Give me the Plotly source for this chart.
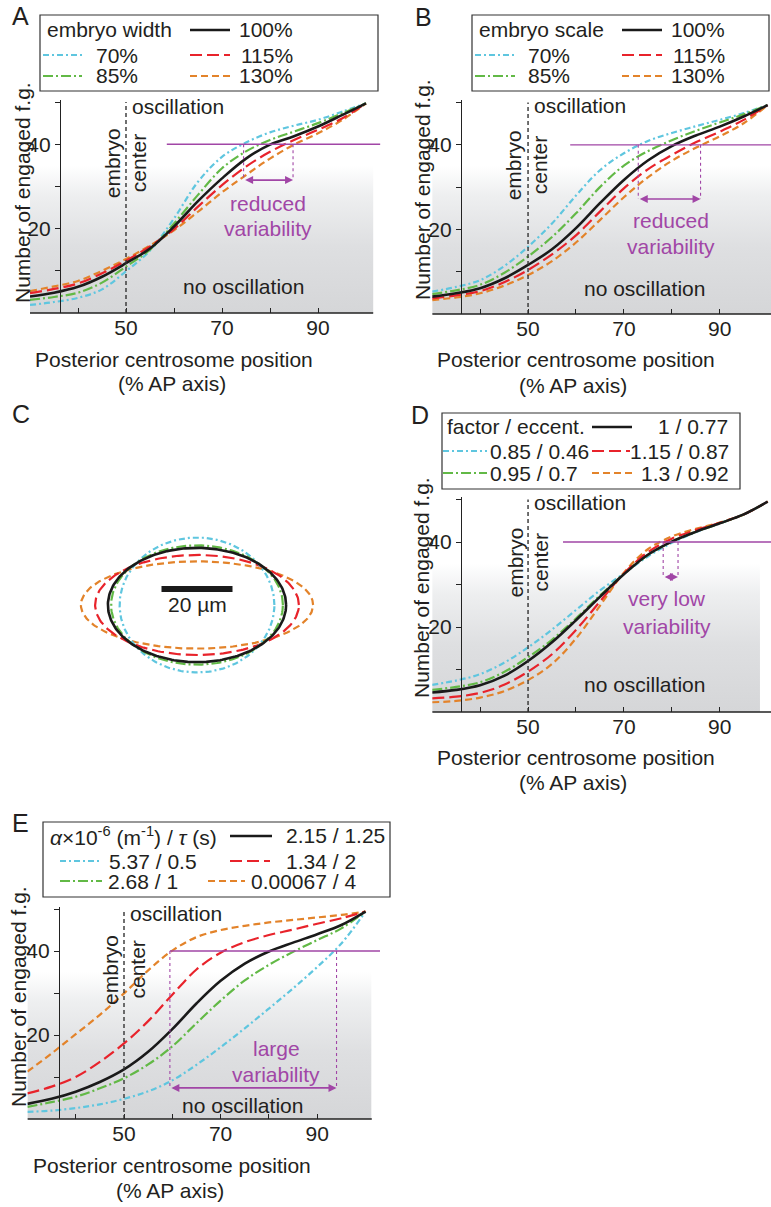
import numpy as np
import plotly.graph_objects as go

W, H = 771, 1207
FONT = "Liberation Sans, Arial, sans-serif"
TXT = "#231f20"
PURPLE = "#a146a6"

# ------------------------------------------------------------------ data
pos = [30, 35, 40, 45, 50, 55, 60, 65, 70, 75, 80, 85, 90, 95, 100]

# Panel A : embryo width
A_black = [3.9, 4.8, 6.2, 8.6, 11.8, 15.3, 20.5, 26.5, 31.9, 36.6, 39.9, 41.9, 44.2, 46.9, 49.7]
A_cyan = [1.9, 2.6, 3.6, 5.6, 9.9, 14.8, 22.4, 31.1, 37.0, 40.4, 42.8, 44.4, 45.8, 47.7, 49.7]
A_green = [3.1, 3.8, 4.8, 7.2, 11.0, 15.0, 21.2, 28.0, 34.3, 38.3, 41.0, 43.0, 45.0, 47.3, 49.7]
A_red = [4.7, 5.7, 7.0, 9.4, 12.4, 15.8, 19.9, 25.2, 30.3, 34.7, 38.2, 41.0, 43.4, 46.1, 49.7]
A_orange = [5.2, 6.3, 7.6, 10.0, 12.8, 16.0, 19.6, 24.0, 28.6, 32.7, 36.6, 39.9, 42.6, 45.7, 49.7]
A_labels = {"black": "100%", "cyan": "70%", "green": "85%", "red": "115%", "orange": "130%"}

# Panel B : embryo scale
B_black = [4.1, 4.9, 6.1, 8.4, 11.6, 15.3, 20.3, 26.2, 31.7, 36.3, 39.7, 42.2, 44.3, 46.7, 49.4]
B_cyan = [5.3, 6.4, 8.0, 11.3, 15.9, 21.4, 28.0, 34.0, 38.0, 40.9, 42.8, 44.4, 45.9, 47.5, 49.4]
B_green = [4.7, 5.6, 6.9, 9.7, 13.6, 18.2, 23.8, 30.0, 35.1, 38.5, 41.1, 43.3, 45.3, 47.2, 49.4]
B_red = [3.7, 4.4, 5.4, 7.5, 10.4, 14.1, 18.6, 24.2, 29.7, 34.2, 37.6, 40.6, 43.1, 45.9, 49.4]
B_orange = [3.3, 3.9, 4.9, 6.7, 9.2, 12.5, 16.9, 22.2, 27.6, 32.3, 36.2, 39.3, 42.0, 45.1, 49.4]
B_labels = {"black": "100%", "cyan": "70%", "green": "85%", "red": "115%", "orange": "130%"}

# Panel C : embryo shapes (semi-axes, micrometres)
C_semi_a = {"black": 25.1, "cyan": 21.8, "green": 24.2, "red": 28.7, "orange": 32.7}
C_semi_b = {"black": 16.1, "cyan": 19.0, "green": 16.8, "red": 14.1, "orange": 12.3}
C_scalebar_um = 20

# Panel D : factor / eccentricity
D_black = [4.6, 5.2, 6.3, 8.5, 12.0, 16.4, 21.6, 27.1, 32.4, 37.0, 40.1, 42.4, 44.4, 46.5, 49.5]
D_cyan = [6.4, 7.4, 8.9, 11.6, 15.2, 19.4, 24.0, 28.6, 32.6, 36.6, 39.8, 42.3, 44.4, 46.5, 49.5]
D_green = [5.2, 5.9, 7.0, 9.4, 12.9, 17.0, 22.0, 27.4, 32.5, 36.9, 40.1, 42.4, 44.4, 46.5, 49.5]
D_red = [3.2, 3.6, 4.5, 6.4, 9.5, 13.6, 19.3, 26.0, 32.6, 37.6, 40.8, 42.8, 44.5, 46.5, 49.5]
D_orange = [2.3, 2.6, 3.4, 4.9, 7.5, 11.3, 17.3, 25.0, 32.8, 38.3, 41.3, 43.1, 44.6, 46.5, 49.5]
D_labels = {"black": "1 / 0.77", "cyan": "0.85 / 0.46", "green": "0.95 / 0.7",
            "red": "1.15 / 0.87", "orange": "1.3 / 0.92"}

# Panel E : alpha / tau
E_black = [3.6, 4.8, 6.5, 8.8, 11.8, 16.0, 21.4, 27.5, 32.9, 37.0, 39.9, 42.0, 44.0, 46.2, 49.4]
E_cyan = [1.7, 2.0, 2.6, 3.5, 4.8, 6.6, 9.2, 12.9, 17.1, 21.6, 26.3, 31.1, 36.2, 41.8, 49.4]
E_green = [2.9, 4.0, 5.3, 7.3, 9.7, 13.0, 17.3, 22.8, 28.2, 33.0, 36.7, 39.8, 42.6, 45.4, 49.4]
E_red = [6.1, 7.7, 10.0, 13.6, 18.0, 23.3, 29.6, 35.6, 39.6, 42.1, 43.8, 45.1, 46.5, 47.8, 49.4]
E_orange = [11.3, 15.6, 20.2, 24.8, 29.9, 35.4, 40.1, 43.3, 45.0, 46.0, 46.8, 47.4, 48.0, 48.6, 49.4]
E_labels = {"black": "2.15 / 1.25", "cyan": "5.37 / 0.5", "green": "2.68 / 1",
            "red": "1.34 / 2", "orange": "0.00067 / 4"}

x_tickvals = [40, 50, 60, 70, 80, 90]
x_ticktext = ["", "50", "", "70", "", "90"]
y_tickvals = [10, 20, 30, 40, 50]
y_ticktext = ["", "20", "", "40", ""]

# ------------------------------------------------------------------ styles
STY = {
    "black": dict(color="#1a1a1a", width=2.6, dash="solid"),
    "cyan": dict(color="#5fc6df", width=2.2, dash="6px,3px,2px,3px"),
    "green": dict(color="#62b946", width=2.2, dash="10px,3px,2px,3px"),
    "red": dict(color="#e8232b", width=2.2, dash="12px,5px"),
    "orange": dict(color="#e3832a", width=2.2, dash="7px,4px"),
}
ORDER = ["cyan", "green", "orange", "red", "black"]


def PX(x):
    return x / W


def PY(y):
    return 1 - y / H


fig = go.Figure()
shapes = []
annots = []


def text_px(t, x, y, size=21, color=TXT, xanchor="center", yanchor="middle", angle=0):
    annots.append(dict(text=t, x=PX(x), y=PY(y), xref="paper", yref="paper",
                       showarrow=False, xanchor=xanchor, yanchor=yanchor,
                       textangle=angle, font=dict(size=size, color=color, family=FONT)))


def text_data(t, x, y, ax, size=21, color=TXT, xanchor="center", angle=0):
    annots.append(dict(text=t, x=x, y=y, xref="x" + ax, yref="y" + ax,
                       showarrow=False, xanchor=xanchor, yanchor="middle",
                       textangle=angle, font=dict(size=size, color=color, family=FONT)))


# panel geometry (pixels)
panels = {
    "A": dict(idx="", series=dict(black=A_black, cyan=A_cyan, green=A_green, red=A_red, orange=A_orange),
              xdom=(30, 380.4), ydom=(99.5, 313), xr=(30, 103), ypos=60,
              axis_end=101.5, gray_end=101.5,
              hl_start=58.5, v1=74.5, v2=84.8, arrow_y=31.5,
              purple_txt=[("reduced", 79.6, 26.0), ("variability", 79.6, 20.1)],
              emb=(47.1, 52.5, 35.5), osc=(50.8, 49.0), noosc=(74.4, 6.2)),
    "B": dict(idx="2", series=dict(black=B_black, cyan=B_cyan, green=B_green, red=B_red, orange=B_orange),
              xdom=(432.2, 771), ydom=(100, 314), xr=(30, 100.7), ypos=461,
              axis_end=100.7, gray_end=100.7,
              hl_start=58.8, v1=73.0, v2=86.0, arrow_y=27.2,
              purple_txt=[("reduced", 79.9, 22.2), ("variability", 79.9, 15.9)],
              emb=(46.9, 52.3, 35.2), osc=(50.8, 49.2), noosc=(74.4, 6.1)),
    "D": dict(idx="4", series=dict(black=D_black, cyan=D_cyan, green=D_green, red=D_red, orange=D_orange),
              xdom=(432.2, 771), ydom=(497, 712), xr=(30, 100.7), ypos=461,
              axis_end=100.7, gray_end=98.4,
              hl_start=57.3, v1=78.2, v2=81.3, arrow_y=31.8,
              purple_txt=[("very low", 79.0, 26.6), ("variability", 79.0, 20.2)],
              emb=(47.3, 52.5, 35.2), osc=(50.8, 49.2), noosc=(74.4, 6.4)),
    "E": dict(idx="5", series=dict(black=E_black, cyan=E_cyan, green=E_green, red=E_red, orange=E_orange),
              xdom=(27.4, 380), ydom=(906.5, 1119), xr=(30, 103), ypos=59,
              axis_end=101.3, gray_end=101.2,
              hl_start=59.5, v1=59.5, v2=94.0, arrow_y=7.4,
              purple_txt=[("large", 81.5, 16.9), ("variability", 81.5, 10.7)],
              emb=(47.2, 52.7, 35.6), osc=(50.8, 49.0), noosc=(74.6, 3.1)),
}

axis_common = dict(showgrid=False, zeroline=False, tickfont=dict(size=21, color=TXT, family=FONT),
                   tickcolor="#222", tickwidth=1.2, ticklen=5)
layout_axes = {}

for name, p in panels.items():
    i = p["idx"]
    xa, ya = "x" + i, "y" + i
    # gray "no oscillation" region with vertical gradient
    fig.add_trace(go.Scatter(
        x=[p["xr"][0], p["gray_end"], p["gray_end"], p["xr"][0], p["xr"][0]],
        y=[0, 0, 35, 35, 0], mode="lines", fill="toself", line=dict(width=0),
        fillgradient=dict(type="vertical", start=0, stop=35,
                          colorscale=[[0, "#d5d6d8"], [0.45, "#dedfe1"], [0.8, "#eeeff0"], [1, "#ffffff"]]),
        hoverinfo="skip", showlegend=False, xaxis=xa, yaxis=ya))
    for key in ORDER:
        fig.add_trace(go.Scatter(x=pos, y=p["series"][key], mode="lines",
                                 line=dict(shape="spline", smoothing=1.0, **STY[key]),
                                 showlegend=False, xaxis=xa, yaxis=ya))
    layout_axes["xaxis" + i] = dict(domain=[PX(p["xdom"][0]), PX(p["xdom"][1])], range=list(p["xr"]),
                                    anchor=ya, showline=False, ticks="inside",
                                    tickvals=x_tickvals, ticktext=x_ticktext, **axis_common)
    layout_axes["yaxis" + i] = dict(domain=[PY(p["ydom"][1]), PY(p["ydom"][0])], range=[0, 50.6],
                                    anchor="free", position=PX(p["ypos"]), showline=True,
                                    linecolor="#222", linewidth=1.3, ticks="outside",
                                    tickvals=y_tickvals, ticktext=y_ticktext, **axis_common)
    # x axis line
    shapes.append(dict(type="line", xref=xa, yref="paper", x0=p["xr"][0], x1=p["axis_end"],
                       y0=PY(p["ydom"][1]), y1=PY(p["ydom"][1]), line=dict(color="#222", width=1.3)))
    # embryo center line
    shapes.append(dict(type="line", xref=xa, yref=ya, x0=50, x1=50, y0=0, y1=50,
                       line=dict(color="#333", width=1.4, dash="4px,3px")))
    # purple threshold line and variability markers
    shapes.append(dict(type="line", xref=xa, yref=ya, x0=p["hl_start"], x1=p["xr"][1], y0=40, y1=40,
                       line=dict(color=PURPLE, width=1.4)))
    for vx in (p["v1"], p["v2"]):
        shapes.append(dict(type="line", xref=xa, yref=ya, x0=vx, x1=vx, y0=40, y1=p["arrow_y"],
                           line=dict(color=PURPLE, width=1.1, dash="dot")))
    annots.append(dict(x=p["v2"], y=p["arrow_y"], ax=p["v1"], ay=p["arrow_y"], xref=xa, yref=ya,
                       axref=xa, ayref=ya, text="", showarrow=True, arrowhead=2, arrowside="end+start",
                       arrowsize=1, arrowwidth=1.6, arrowcolor=PURPLE, standoff=0, startstandoff=0))
    for t, tx, ty in p["purple_txt"]:
        text_data(t, tx, ty, i, color=PURPLE)
    text_data("oscillation", p["osc"][0], p["osc"][1], i, xanchor="left")
    text_data("no oscillation", p["noosc"][0], p["noosc"][1], i)
    text_data("embryo", p["emb"][0], p["emb"][2], i, angle=-90)
    text_data("center", p["emb"][1], p["emb"][2], i, angle=-90)

# ------------------------------------------------------------------ panel C
theta = np.linspace(0, 2 * np.pi, 241)
for key in ["orange", "red", "cyan", "green", "black"]:
    a, b = C_semi_a[key], C_semi_b[key]
    fig.add_trace(go.Scatter(x=a * np.cos(theta), y=b * np.sin(theta), mode="lines",
                             line=dict(**STY[key]), showlegend=False, xaxis="x3", yaxis="y3"))
c_half_x = (337 - 57) / 2 / 3.55
c_half_y = (730 - 480) / 2 / 3.55
layout_axes["xaxis3"] = dict(domain=[PX(57), PX(337)], range=[-c_half_x, c_half_x], visible=False, anchor="y3")
layout_axes["yaxis3"] = dict(domain=[PY(730), PY(480)], range=[-c_half_y, c_half_y], visible=False, anchor="x3")
shapes.append(dict(type="rect", xref="x3", yref="y3", x0=-C_scalebar_um / 2, x1=C_scalebar_um / 2,
                   y0=3.66, y1=5.35, fillcolor="#1a1a1a", line=dict(width=0)))
annots.append(dict(text="%d µm" % C_scalebar_um, x=0, y=0.2, xref="x3", yref="y3", showarrow=False,
                   font=dict(size=21, color=TXT, family=FONT)))

# ------------------------------------------------------------------ legends (pixel layout)
legends = [
    dict(box=(40, 15, 378, 91), title=("embryo width", 45, 30), labels=A_labels, entries=[
        ("black", 190, 230, 30, 295, "right"), ("cyan", 43, 82, 55, 140, "right"),
        ("green", 43, 82, 76, 140, "right"), ("red", 190, 230, 55, 295, "right"),
        ("orange", 190, 230, 76, 295, "right")]),
    dict(box=(472, 15, 769, 91), title=("embryo scale", 477, 30), labels=B_labels, entries=[
        ("black", 622, 662, 30, 727, "right"), ("cyan", 475, 515, 55, 572, "right"),
        ("green", 475, 515, 76, 572, "right"), ("red", 622, 662, 55, 727, "right"),
        ("orange", 622, 662, 76, 727, "right")]),
    dict(box=(442, 413, 740, 489), title=("factor / eccent.", 445, 427), labels=D_labels, entries=[
        ("black", 592, 632, 427, 730, "right"), ("cyan", 443, 487, 451, 488, "left"),
        ("green", 443, 487, 473, 488, "left"), ("red", 592, 630, 451, 731, "right"),
        ("orange", 592, 632, 473, 731, "right")]),
    dict(box=(43, 822, 390, 897),
         title=("<i>α</i>×10<sup>-6</sup> (m<sup>-1</sup>) / <i>τ</i> (s)", 48, 836), labels=E_labels,
         entries=[("black", 230, 272, 836, 387, "right"), ("cyan", 60, 100, 861, 107, "left"),
                  ("green", 60, 102, 881, 106, "left"), ("red", 230, 270, 861, 358, "right"),
                  ("orange", 208, 245, 881, 358, "right")]),
]
for lg in legends:
    x0, y0, x1, y1 = lg["box"]
    shapes.append(dict(type="rect", xref="paper", yref="paper", x0=PX(x0), x1=PX(x1), y0=PY(y1), y1=PY(y0),
                       line=dict(color="#333", width=1.2), fillcolor="rgba(0,0,0,0)"))
    t, tx, ty = lg["title"]
    text_px(t, tx, ty, xanchor="left")
    for key, lx0, lx1, ly, tx, anc in lg["entries"]:
        shapes.append(dict(type="line", xref="paper", yref="paper", x0=PX(lx0), x1=PX(lx1),
                           y0=PY(ly), y1=PY(ly), line=dict(**STY[key])))
        text_px(lg["labels"][key], tx, ly, xanchor=anc)

# ------------------------------------------------------------------ titles & panel letters
for (ytx, yty, x1x, x1y, x2x, x2y) in [(23, 193, 174, 359, 172, 383), (422, 190, 576, 359, 573, 385),
                                       (422, 588, 576, 757, 573, 782), (18, 997, 172, 1165, 170, 1190)]:
    text_px("Number of engaged f.g.", ytx, yty, angle=-90)
    text_px("Posterior centrosome position", x1x, x1y)
    text_px("(% AP axis)", x2x, x2y)

for letter, lx, ly in [("A", 20, 16), ("B", 423, 17), ("C", 21, 414), ("D", 420, 415), ("E", 20, 823)]:
    text_px(letter, lx, ly, size=25)

fig.update_layout(width=W, height=H, margin=dict(l=0, r=0, t=0, b=0),
                  paper_bgcolor="white", plot_bgcolor="rgba(0,0,0,0)", showlegend=False,
                  font=dict(family=FONT, size=21, color=TXT),
                  shapes=shapes, annotations=annots, **layout_axes)
fig.write_html("out.html")
